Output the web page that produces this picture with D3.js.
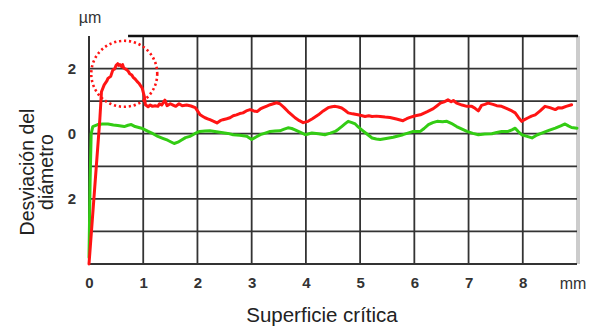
<!DOCTYPE html>
<html>
<head>
<meta charset="utf-8">
<script src="https://cdn.jsdelivr.net/npm/d3@7/dist/d3.min.js"></script>
<style>
  html, body { margin: 0; padding: 0; background: #fff; }
  svg { display: block; font-family: "Liberation Sans", Arial, sans-serif; }
</style>
</head>
<body>
<svg id="chart" width="604" height="329"></svg>
<script>
// Distance along the critical surface (mm)
const xTicks = [0, 1, 2, 3, 4, 5, 6, 7, 8];
const xTickLabels = ["0", "1", "2", "3", "4", "5", "6", "7", "8"];
const xUnit = "mm";

// Diameter deviation (µm)
const yGrid = [-4, -3, -2, -1, 0, 1, 2, 3];
const yTickValues = [2, 0, -2];
const yTickLabels = ["2", "0", "2"];
const yUnit = "µm";

// Measured profile with the critical peak (red)
const redProfile = [
  [0.00, -4.00], [0.20, 0.45], [0.23, 1.29], [0.28, 1.50], [0.33, 1.62], [0.35, 1.70],
  [0.40, 1.76], [0.44, 1.96], [0.47, 1.98], [0.50, 2.10], [0.53, 2.15], [0.55, 2.10],
  [0.57, 2.12], [0.60, 2.06], [0.62, 2.12], [0.64, 2.02], [0.70, 1.96], [0.73, 1.90],
  [0.75, 1.84], [0.79, 1.80], [0.82, 1.72], [0.85, 1.68], [0.89, 1.60], [0.92, 1.55],
  [0.95, 1.48], [0.98, 1.41], [1.02, 1.15], [1.04, 0.89], [1.09, 0.83], [1.13, 0.88],
  [1.17, 0.84], [1.22, 0.86], [1.27, 0.84], [1.30, 0.92], [1.34, 0.88], [1.40, 1.03],
  [1.44, 0.86], [1.50, 0.92], [1.55, 0.88], [1.60, 0.84], [1.66, 0.92], [1.72, 0.86],
  [1.80, 0.88], [1.88, 0.85], [1.96, 0.80], [2.01, 0.68], [2.05, 0.58], [2.10, 0.53],
  [2.14, 0.49], [2.20, 0.45], [2.23, 0.43], [2.30, 0.38], [2.36, 0.33], [2.42, 0.40],
  [2.47, 0.43], [2.54, 0.46], [2.60, 0.49], [2.66, 0.55], [2.72, 0.58], [2.78, 0.62],
  [2.84, 0.64], [2.90, 0.70], [2.97, 0.74], [3.04, 0.70], [3.10, 0.68], [3.16, 0.76],
  [3.21, 0.80], [3.28, 0.85], [3.34, 0.89], [3.40, 0.92], [3.46, 0.95], [3.52, 0.92],
  [3.60, 0.80], [3.67, 0.68], [3.74, 0.58], [3.80, 0.49], [3.88, 0.40], [3.95, 0.34],
  [4.04, 0.38], [4.12, 0.46], [4.23, 0.58], [4.32, 0.70], [4.41, 0.80], [4.48, 0.83],
  [4.54, 0.84], [4.60, 0.82], [4.66, 0.79], [4.72, 0.72], [4.78, 0.64], [4.86, 0.61],
  [4.96, 0.58], [5.02, 0.56], [5.09, 0.53], [5.16, 0.55], [5.22, 0.53], [5.30, 0.54],
  [5.37, 0.53], [5.46, 0.51], [5.55, 0.50], [5.67, 0.45], [5.79, 0.40], [5.86, 0.46],
  [5.92, 0.50], [6.02, 0.55], [6.11, 0.58], [6.24, 0.68], [6.35, 0.77], [6.42, 0.86],
  [6.48, 0.94], [6.55, 0.98], [6.62, 1.04], [6.68, 0.98], [6.72, 1.02], [6.78, 0.94],
  [6.88, 0.88], [6.97, 0.84], [7.06, 0.84], [7.12, 0.78], [7.18, 0.70], [7.24, 0.87],
  [7.30, 0.90], [7.36, 0.94], [7.45, 0.90], [7.52, 0.86], [7.61, 0.84], [7.72, 0.76],
  [7.80, 0.70], [7.86, 0.64], [7.92, 0.50], [7.98, 0.38], [8.04, 0.44], [8.10, 0.49],
  [8.16, 0.54], [8.23, 0.58], [8.32, 0.70], [8.41, 0.84], [8.50, 0.80], [8.60, 0.74],
  [8.66, 0.80], [8.72, 0.79], [8.80, 0.84], [8.90, 0.89]
];

// Reference profile (green)
const greenProfile = [
  [0.00, -3.80], [0.02, -1.50], [0.04, 0.00], [0.07, 0.22], [0.16, 0.28], [0.25, 0.30],
  [0.35, 0.30], [0.45, 0.27], [0.53, 0.25], [0.65, 0.22], [0.72, 0.26], [0.78, 0.28],
  [0.85, 0.22], [0.97, 0.17], [1.09, 0.07], [1.18, 0.00], [1.27, -0.08], [1.36, -0.14],
  [1.45, -0.20], [1.57, -0.30], [1.64, -0.26], [1.70, -0.20], [1.78, -0.12], [1.86, -0.08],
  [1.95, 0.00], [2.04, 0.07], [2.14, 0.08], [2.23, 0.09], [2.35, 0.06], [2.47, 0.03],
  [2.56, 0.01], [2.66, -0.03], [2.78, -0.05], [2.91, -0.08], [3.00, -0.18], [3.08, -0.10],
  [3.16, -0.03], [3.25, 0.02], [3.34, 0.07], [3.43, 0.08], [3.52, 0.09], [3.60, 0.14],
  [3.67, 0.18], [3.74, 0.16], [3.80, 0.12], [3.90, 0.04], [3.99, -0.03], [4.11, 0.02],
  [4.23, 0.00], [4.35, -0.03], [4.45, 0.02], [4.54, 0.07], [4.60, 0.14], [4.66, 0.22],
  [4.72, 0.30], [4.78, 0.38], [4.85, 0.34], [4.91, 0.30], [4.97, 0.20], [5.03, 0.12],
  [5.12, 0.00], [5.22, -0.13], [5.30, -0.16], [5.37, -0.18], [5.48, -0.15], [5.61, -0.11],
  [5.70, -0.07], [5.79, -0.03], [5.88, 0.02], [5.98, 0.07], [6.11, 0.07], [6.18, 0.16],
  [6.26, 0.28], [6.34, 0.34], [6.42, 0.38], [6.52, 0.37], [6.60, 0.38], [6.68, 0.32],
  [6.78, 0.22], [6.88, 0.14], [6.97, 0.07], [7.08, 0.01], [7.18, -0.03], [7.30, -0.01],
  [7.43, 0.00], [7.52, 0.04], [7.61, 0.07], [7.73, 0.07], [7.80, 0.12], [7.86, 0.17],
  [7.92, 0.06], [7.98, -0.03], [8.08, -0.08], [8.17, -0.13], [8.26, -0.04], [8.35, 0.02],
  [8.48, 0.10], [8.60, 0.17], [8.70, 0.24], [8.78, 0.30], [8.84, 0.24], [8.90, 0.19],
  [9.00, 0.17]
];

// Highlighted peak region: centre in data units, radius in px
const peakMarkCenter = [0.65, 1.84];
const peakMarkRadius = 33;

const svg = d3.select("#chart");
const plot = { left: 89, right: 577, top: 36, bottom: 264 };

const x = d3.scaleLinear().domain([0, 9]).range([plot.left, plot.right]);
const y = d3.scaleLinear().domain([-4, 3]).range([plot.bottom, plot.top]);

// Light grey band at the right edge of the plot
svg.append("rect")
  .attr("x", x(9) - 1).attr("y", y(3))
  .attr("width", 4).attr("height", y(-4) - y(3))
  .attr("fill", "#cccccc");

// Grid
const grid = svg.append("g").attr("stroke", "#333").attr("stroke-width", 1.8);
grid.selectAll("line.v").data(xTicks.slice(1)).join("line")
  .attr("class", "v")
  .attr("x1", d => x(d)).attr("x2", d => x(d))
  .attr("y1", y(3)).attr("y2", y(-4));
grid.selectAll("line.h").data(yGrid.filter(d => d > -4 && d < 3)).join("line")
  .attr("class", "h")
  .attr("x1", x(0)).attr("x2", x(9))
  .attr("y1", d => y(d)).attr("y2", d => y(d));

// Frame: left and bottom axes, top rule leaves room for the unit label
svg.append("line")
  .attr("x1", x(0)).attr("x2", x(0)).attr("y1", y(3)).attr("y2", y(-4))
  .attr("stroke", "#333").attr("stroke-width", 2);
svg.append("line")
  .attr("x1", x(0)).attr("x2", x(9)).attr("y1", y(-4)).attr("y2", y(-4))
  .attr("stroke", "#333").attr("stroke-width", 2);
svg.append("line")
  .attr("x1", x(0.72)).attr("x2", x(9.02)).attr("y1", y(3)).attr("y2", y(3))
  .attr("stroke", "#111").attr("stroke-width", 2.6);

// Tick labels from axis generators
const xAxis = d3.axisBottom(x).tickValues(xTicks)
  .tickFormat((d, i) => xTickLabels[i]).tickSize(0).tickPadding(13);
const gx = svg.append("g").attr("transform", `translate(0,${y(-4)})`).call(xAxis);
gx.select(".domain").remove();
gx.selectAll("text").attr("font-size", 15).attr("font-weight", "bold")
  .attr("fill", "#333").attr("font-family", "Liberation Sans, Arial, sans-serif");

const yAxis = d3.axisLeft(y).tickValues(yTickValues)
  .tickFormat((d, i) => yTickLabels[i]).tickSize(0).tickPadding(13);
const gy = svg.append("g").attr("transform", `translate(${x(0)},0)`).call(yAxis);
gy.select(".domain").remove();
gy.selectAll("text").attr("font-size", 15).attr("font-weight", "bold")
  .attr("fill", "#333").attr("font-family", "Liberation Sans, Arial, sans-serif");

// Units
svg.append("text").attr("x", 573).attr("y", y(-4) + 25)
  .attr("text-anchor", "middle").attr("font-size", 16).attr("fill", "#333")
  .text(xUnit);
svg.append("text").attr("x", 90).attr("y", 23)
  .attr("text-anchor", "middle").attr("font-size", 16).attr("fill", "#333")
  .text(yUnit);

// Axis titles
svg.append("text").attr("x", 322).attr("y", 322)
  .attr("text-anchor", "middle").attr("font-size", 20.5).attr("fill", "#222")
  .text("Superficie crítica");
const yTitle = svg.append("text")
  .attr("transform", "translate(36,172) rotate(-90)")
  .attr("text-anchor", "middle").attr("font-size", 19.5).attr("fill", "#222");
yTitle.append("tspan").attr("x", 0).attr("dy", -2).text("Desviación del");
yTitle.append("tspan").attr("x", 0).attr("dy", 19).text("diámetro");

// Profiles
const line = d3.line().x(d => x(d[0])).y(d => y(d[1]));
svg.append("path").datum(greenProfile)
  .attr("fill", "none").attr("stroke", "#33cc14").attr("stroke-width", 3)
  .attr("stroke-linejoin", "round").attr("stroke-linecap", "round")
  .attr("d", line);
svg.append("path").datum(redProfile)
  .attr("fill", "none").attr("stroke", "#ff1414").attr("stroke-width", 3)
  .attr("stroke-linejoin", "round").attr("stroke-linecap", "round")
  .attr("d", line);

// Dotted ring around the peak
svg.append("circle")
  .attr("cx", x(peakMarkCenter[0])).attr("cy", y(peakMarkCenter[1]))
  .attr("r", peakMarkRadius)
  .attr("fill", "none").attr("stroke", "#ff1414").attr("stroke-width", 2.6)
  .attr("stroke-dasharray", "2.2 2.8");
</script>
</body>
</html>
